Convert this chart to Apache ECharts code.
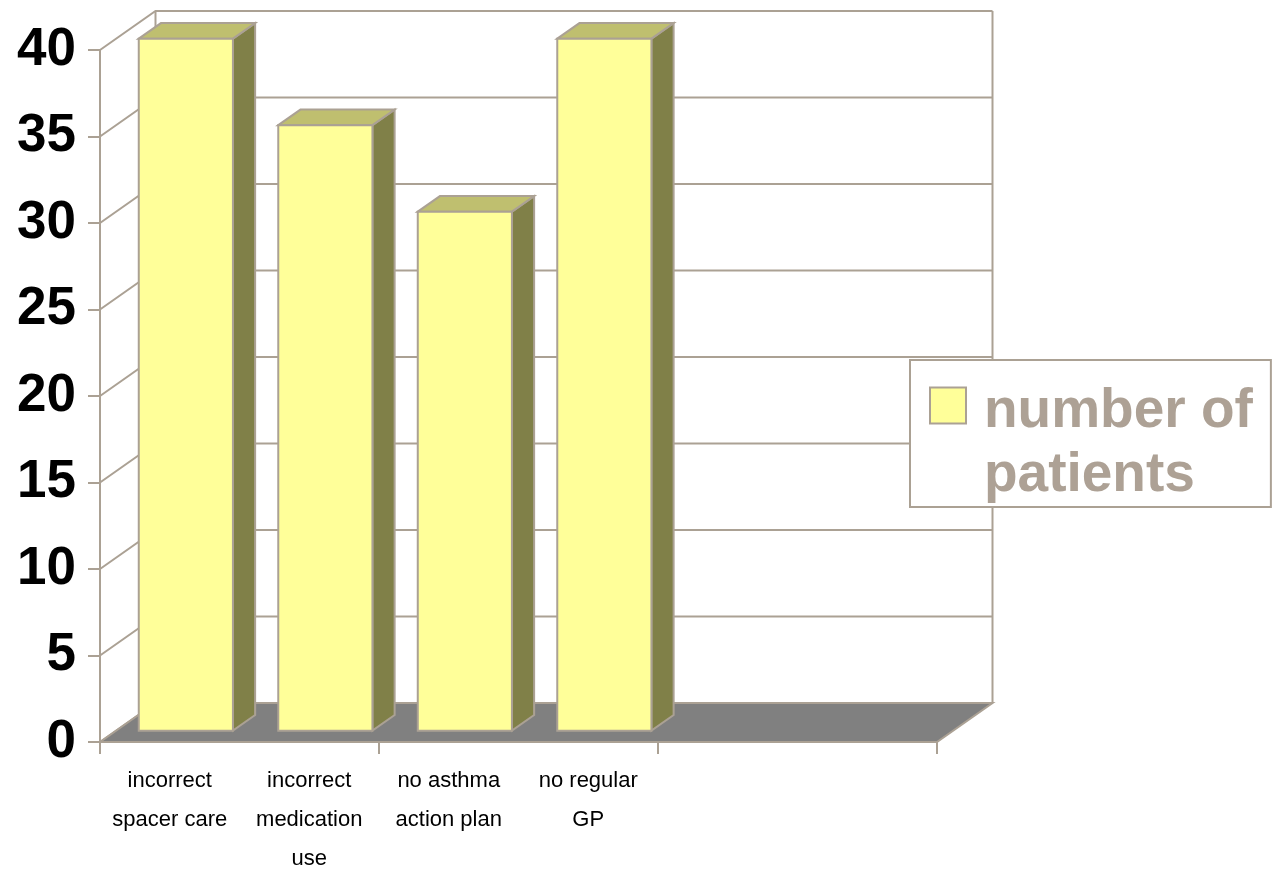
<!DOCTYPE html>
<html><head><meta charset="utf-8">
<script src="https://cdn.jsdelivr.net/npm/echarts@6/dist/echarts.min.js"></script>
<style>html,body{margin:0;padding:0;background:#fff}#c{width:1276px;height:871px}</style>
</head><body><div id="c"></div>
<script>
// ---- data ----
const categories = ['incorrect\nspacer care', 'incorrect\nmedication\nuse', 'no asthma\naction plan', 'no regular\nGP'];
const emptySlots = ['', ''];
const patients = [40, 35, 30, 40];
const yTicks = [0, 5, 10, 15, 20, 25, 30, 35, 40];
const seriesName = 'number of patients';

// ---- styling constants ----
const LINE = '#ABA194';
const DX = 55.5, DY = -39;      // depth of the 3D box (front plane -> back wall)
const F1 = 0.29, F2 = 0.69;     // bar front / back depth fractions
const BAR_W = 0.675;            // bar width as share of category band
const FONT = "'Liberation Sans', Arial, sans-serif";

const chart = echarts.init(document.getElementById('c'), null, {renderer: 'canvas'});

function wallItem(params, api) {
  const cs = params.coordSys;
  const y = api.coord([0, api.value(1)])[1];
  const x0 = cs.x, x1 = cs.x + cs.width;
  return {
    type: 'polyline',
    shape: {points: [[x0, y], [x0 + DX, y + DY], [x1 + DX, y + DY]]},
    style: {stroke: LINE, lineWidth: 2, fill: null}
  };
}

function frameItem(params, api) {
  const cs = params.coordSys;
  const x0 = cs.x, x1 = cs.x + cs.width;
  const y0 = api.coord([0, 0])[1];
  const yTop = api.coord([0, yTicks[yTicks.length - 1]])[1];
  return {
    type: 'group',
    children: [
      {type: 'line', shape: {x1: x0 + DX, y1: yTop + DY, x2: x0 + DX, y2: y0 + DY}, style: {stroke: LINE, lineWidth: 2}},
      {type: 'line', shape: {x1: x1 + DX, y1: yTop + DY, x2: x1 + DX, y2: y0 + DY}, style: {stroke: LINE, lineWidth: 2}},
      {type: 'polygon', shape: {points: [[x0, y0], [x0 + DX, y0 + DY], [x1 + DX, y0 + DY], [x1, y0]]},
        style: {fill: '#808080', stroke: LINE, lineWidth: 2}}
    ]
  };
}

function barItem(params, api) {
  const i = api.value(0), v = api.value(1);
  const top = api.coord([i, v]), base = api.coord([i, 0]);
  const band = api.size([1, 0])[0];
  const hw = band * BAR_W / 2;
  const ax = DX * F1, ay = DY * F1, bx = DX * F2, by = DY * F2;
  const L1 = top[0] - hw + ax, R1 = top[0] + hw + ax, T1 = top[1] + ay, B1 = base[1] + ay;
  const L2 = top[0] - hw + bx, R2 = top[0] + hw + bx, T2 = top[1] + by, B2 = base[1] + by;
  return {
    type: 'group',
    children: [
      {type: 'polygon', shape: {points: [[R1, T1], [R2, T2], [R2, B2], [R1, B1]]}, style: {fill: '#808048', stroke: LINE, lineWidth: 2}},
      {type: 'polygon', shape: {points: [[L1, T1], [L2, T2], [R2, T2], [R1, T1]]}, style: {fill: '#BFBF6F', stroke: LINE, lineWidth: 2}},
      {type: 'rect', shape: {x: L1, y: T1, width: R1 - L1, height: B1 - T1}, style: {fill: '#FFFF99', stroke: LINE, lineWidth: 2}}
    ]
  };
}

chart.setOption({
  animation: false,
  backgroundColor: '#fff',
  grid: {left: 100, top: 50, right: 339, bottom: 129, containLabel: false, outerBoundsMode: 'none'},
  legend: {
    data: [{name: seriesName, icon: 'rect', itemStyle: {color: '#FFFF99', borderColor: LINE, borderWidth: 2}}],
    left: 910, top: 360, orient: 'vertical',
    itemWidth: 36, itemHeight: 36,
    padding: [24, 18, 4, 19],
    backgroundColor: '#fff', borderColor: LINE, borderWidth: 2, borderRadius: 0,
    selectedMode: false,
    formatter: n => n.replace(/ (patients)$/, '\n$1').split('\n').map(s => '{a|' + s + '}').join('\n'),
    textStyle: {
      padding: [76, 0, 0, 13],
      rich: {a: {fontFamily: FONT, fontSize: 55, fontWeight: 'bold', color: '#ADA195', lineHeight: 64}}
    }
  },
  xAxis: {
    type: 'category',
    data: categories.concat(emptySlots),
    boundaryGap: true,
    axisLine: {show: true, lineStyle: {color: LINE, width: 2}},
    axisTick: {show: true, interval: (i) => i % 2 === 0, length: 12, lineStyle: {color: LINE, width: 2}},
    axisLabel: {interval: 0, margin: 19, color: '#000', fontFamily: FONT, fontSize: 22, lineHeight: 39},
    splitLine: {show: false}
  },
  yAxis: {
    type: 'value', min: 0, max: 40, interval: 5,
    axisLine: {show: true, lineStyle: {color: LINE, width: 2}},
    axisTick: {show: true, length: 12, lineStyle: {color: LINE, width: 2}},
    axisLabel: {margin: 24, color: '#000', fontFamily: FONT, fontSize: 53, fontWeight: 'bold'},
    splitLine: {show: false}
  },
  series: [
    {type: 'custom', name: 'wall', renderItem: wallItem, data: yTicks.map(v => [0, v]), silent: true, z: 1},
    {type: 'custom', name: 'frame', renderItem: frameItem, data: [[0, 0]], silent: true, z: 1},
    {type: 'custom', name: seriesName, renderItem: barItem, data: patients.map((v, i) => [i, v]),
      itemStyle: {color: '#FFFF99'}, z: 2}
  ]
});
</script></body></html>
